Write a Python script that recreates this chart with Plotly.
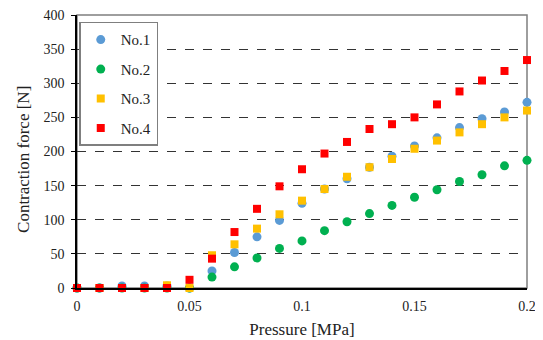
import plotly.graph_objects as go

pressure = [0.00, 0.01, 0.02, 0.03, 0.04, 0.05, 0.06, 0.07, 0.08, 0.09, 0.10,
            0.11, 0.12, 0.13, 0.14, 0.15, 0.16, 0.17, 0.18, 0.19, 0.20]
no1 = [0, 0, 3, 3, 3, 0, 25, 52, 75, 99, 124, 145, 160, 177, 193, 208, 220, 235, 248, 258, 272]
no2 = [0, 0, 0, 0, 0, 0, 16, 31, 44, 58, 69, 84, 97, 109, 121, 133, 144, 156, 166, 179, 187]
no3 = [0, 0, 0, 0, 4, 0, 48, 64, 87, 108, 128, 145, 163, 177, 189, 204, 216, 228, 240, 250, 260]
no4 = [0, 0, 0, 0, 0, 12, 43, 82, 116, 149, 174, 197, 214, 233, 240, 250, 269, 288, 304, 318, 334]

names = ["No.1", "No.2", "No.3", "No.4"]
colors = ["#5B9BD5", "#00B050", "#FFC000", "#FF0000"]
symbols = ["circle", "circle", "square", "square"]
series = [no1, no2, no3, no4]

x_ticks = [0, 0.05, 0.1, 0.15, 0.2]
x_ticklabels = ["0", "0.05", "0.1", "0.15", "0.2"]
y_ticks = [0, 50, 100, 150, 200, 250, 300, 350, 400]

font = "Liberation Serif, Times New Roman, serif"

fig = go.Figure()
for name, ys, c, s in zip(names, series, colors, symbols):
    fig.add_trace(go.Scatter(
        x=pressure, y=ys, mode="markers", name=name, legendgroup=name,
        marker=dict(color=c, symbol=s, size=9 if s == "circle" else 8, line=dict(width=0)),
        cliponaxis=False,
    ))

fig.add_shape(type="rect", xref="paper", yref="paper", x0=0, y0=0, x1=1, y1=1,
              line=dict(color="#7f7f7f", width=1.5), layer="below")

fig.add_annotation(
    text="Contraction force [N]", textangle=-90,
    xref="paper", yref="paper", x=0, y=0.469, xanchor="center", yanchor="middle",
    xshift=-53, showarrow=False, font=dict(family=font, size=17, color="#222"),
)

fig.update_layout(
    width=535, height=332,
    margin=dict(l=69, r=16, t=7, b=52, autoexpand=False),
    paper_bgcolor="white", plot_bgcolor="white",
    font=dict(family=font, size=14, color="#222"),
    showlegend=True,
    legend=dict(
        x=0.005, y=0.975, xanchor="left", yanchor="top",
        bgcolor="white", bordercolor="#7f7f7f", borderwidth=1.5,
        font=dict(family=font, size=15, color="#222"),
        tracegroupgap=7, itemwidth=30,
    ),
    xaxis=dict(
        range=[0, 0.2], tickvals=x_ticks, ticktext=x_ticklabels,
        showgrid=False, zeroline=False, automargin=False,
        showline=True, linecolor="black", linewidth=1.5,
        ticks="", tickfont=dict(size=14), ticklabelstandoff=4,
        ticklabeloverflow="allow",
        title=dict(text="Pressure [MPa]", font=dict(size=17), standoff=11),
    ),
    yaxis=dict(
        range=[0, 400], tickvals=y_ticks,
        showgrid=True, gridcolor="#333", griddash="dash", gridwidth=1,
        zeroline=False, automargin=False,
        showline=True, linecolor="black", linewidth=1.5,
        ticks="outside", ticklen=4, tickcolor="black",
        tickfont=dict(size=14), ticklabelstandoff=4,
        ticklabeloverflow="allow",
    ),
)

fig.write_html("out.html")
